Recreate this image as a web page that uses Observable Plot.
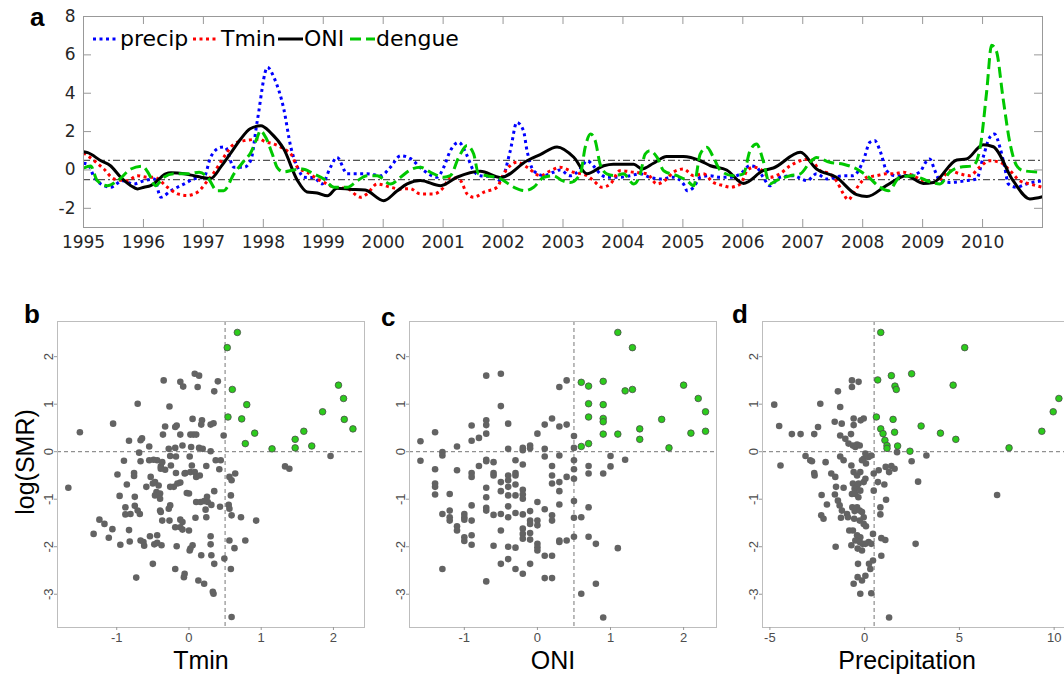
<!DOCTYPE html>
<html><head><meta charset="utf-8">
<script src="https://cdn.jsdelivr.net/npm/d3@7"></script>
<script src="https://cdn.jsdelivr.net/npm/@observablehq/plot@0.6"></script>
<style>
html,body{margin:0;padding:0;background:#fff;overflow:hidden;}
#wrap{position:relative;width:1064px;height:678px;overflow:hidden;background:#fff;}
#wrap svg{position:absolute;overflow:visible;background:transparent;max-width:none;}
.plab{position:absolute;font-family:"Liberation Sans",Arial,sans-serif;font-weight:bold;font-size:26px;line-height:1;color:#000;}
.atitle{position:absolute;font-family:"Liberation Sans",Arial,sans-serif;font-size:25px;line-height:1;color:#000;white-space:nowrap;transform:translate(-50%,-50%);}
.leg{position:absolute;font-family:"DejaVu Sans",sans-serif;font-size:22px;line-height:1;color:#000;white-space:nowrap;}
</style></head><body><div id="wrap"></div>
<script>
// ---------- Panel a: time series (decimal year, value) ----------
const precip = [[1995.0,0.35],[1995.07,0.3],[1995.18,-0.38],[1995.29,-0.73],[1995.45,-0.9],[1995.65,-0.56],[1995.84,-0.73],[1996.01,-0.56],[1996.18,-0.47],[1996.29,-1.42],[1996.46,-1.08],[1996.68,-0.73],[1996.84,-0.47],[1997.01,-0.38],[1997.12,0.66],[1997.29,1.18],[1997.36,1.2],[1997.51,0.14],[1997.68,0.14],[1997.79,0.5],[1997.9,2.57],[1998.07,5.35],[1998.18,4.8],[1998.34,3.2],[1998.46,1.18],[1998.57,0.14],[1998.68,-0.38],[1998.84,-0.4],[1998.98,-0.73],[1999.12,0.14],[1999.23,0.66],[1999.4,-0.2],[1999.57,-0.2],[1999.73,-0.2],[1999.96,-0.3],[2000.12,0.14],[2000.29,0.74],[2000.45,0.6],[2000.68,-0.04],[2000.9,-0.38],[2001.01,0.14],[2001.12,1.0],[2001.26,1.44],[2001.4,0.74],[2001.5,0.0],[2001.62,-0.3],[2001.85,-0.35],[2001.96,-0.56],[2002.12,1.0],[2002.23,2.48],[2002.34,2.05],[2002.4,1.0],[2002.51,-0.04],[2002.68,-0.3],[2002.84,-0.12],[2002.95,0.0],[2003.12,-0.3],[2003.29,0.05],[2003.4,0.48],[2003.51,0.2],[2003.62,-0.2],[2003.73,-0.38],[2003.95,-0.38],[2004.12,-0.3],[2004.29,-0.2],[2004.45,-0.38],[2004.62,-0.47],[2004.84,-0.38],[2005.01,-0.73],[2005.07,-1.08],[2005.18,-0.9],[2005.29,-0.38],[2005.45,-0.3],[2005.62,-0.38],[2005.79,-0.38],[2005.96,-0.2],[2006.12,0.22],[2006.23,0.14],[2006.34,-0.38],[2006.45,-0.82],[2006.62,-0.38],[2006.84,-0.3],[2007.07,-0.56],[2007.23,-0.2],[2007.4,-0.47],[2007.68,-0.3],[2007.84,-0.3],[2008.01,0.48],[2008.12,1.44],[2008.2,1.53],[2008.29,1.0],[2008.4,-0.04],[2008.55,-0.3],[2008.75,-0.3],[2008.95,-0.12],[2009.07,0.48],[2009.12,0.57],[2009.2,0.0],[2009.29,-0.56],[2009.45,-0.65],[2009.73,-0.56],[2009.9,-0.47],[2010.01,0.66],[2010.12,1.7],[2010.2,1.87],[2010.29,1.18],[2010.37,0.14],[2010.43,-0.73],[2010.57,-0.9],[2010.73,-0.73],[2011.0,-0.56]];
const tmin = [[1995.0,0.9],[1995.07,0.74],[1995.18,0.48],[1995.34,0.05],[1995.51,-0.47],[1995.73,-0.56],[1995.9,-0.3],[1996.07,-0.38],[1996.18,-0.38],[1996.4,-0.9],[1996.57,-1.25],[1996.73,-1.33],[1996.9,-1.16],[1997.07,-0.56],[1997.18,-0.12],[1997.34,0.66],[1997.51,1.35],[1997.68,1.53],[1997.95,1.6],[1998.01,1.5],[1998.18,1.35],[1998.34,1.1],[1998.48,0.74],[1998.57,0.14],[1998.73,-0.12],[1998.9,-0.47],[1999.01,-0.65],[1999.18,-0.9],[1999.4,-0.97],[1999.62,-1.42],[1999.73,-1.25],[1999.9,-0.73],[2000.12,-0.9],[2000.29,-1.0],[2000.45,-0.97],[2000.62,-1.25],[2000.84,-1.25],[2001.01,-0.9],[2001.12,-0.38],[2001.29,-0.56],[2001.4,-1.25],[2001.51,-1.42],[2001.68,-1.16],[2001.9,-0.9],[2002.01,-0.2],[2002.12,0.22],[2002.23,0.4],[2002.4,0.14],[2002.62,-0.3],[2002.79,-0.04],[2002.95,0.14],[2003.18,-0.12],[2003.4,-0.3],[2003.51,-0.56],[2003.65,-0.9],[2003.79,-0.73],[2003.95,-0.04],[2004.18,-0.12],[2004.4,-0.2],[2004.57,-0.73],[2004.73,-0.47],[2004.84,-0.12],[2005.01,0.05],[2005.18,-0.3],[2005.34,-0.2],[2005.51,-0.65],[2005.68,-0.82],[2005.79,-0.9],[2005.96,-0.73],[2006.07,-0.04],[2006.18,0.14],[2006.29,0.05],[2006.45,-0.38],[2006.62,-0.2],[2006.79,0.22],[2006.96,0.48],[2007.12,0.57],[2007.29,-0.04],[2007.45,-0.2],[2007.56,-0.56],[2007.68,-1.25],[2007.76,-1.56],[2007.84,-1.25],[2007.95,-0.73],[2008.07,-0.38],[2008.23,-0.3],[2008.4,-0.2],[2008.51,-0.2],[2008.68,-0.12],[2008.84,-0.3],[2009.01,-0.56],[2009.18,-0.65],[2009.34,-0.38],[2009.45,-0.04],[2009.62,-0.2],[2009.79,-0.3],[2009.95,0.14],[2010.12,0.48],[2010.29,0.4],[2010.46,-0.04],[2010.62,-0.56],[2010.79,-0.73],[2011.0,-0.9]];
const oni = [[1995.0,0.95],[1995.07,0.9],[1995.29,0.48],[1995.45,0.22],[1995.62,-0.38],[1995.79,-0.82],[1995.9,-0.99],[1996.01,-0.9],[1996.12,-0.82],[1996.23,-0.56],[1996.37,-0.2],[1996.46,-0.15],[1996.68,-0.2],[1996.84,-0.3],[1996.96,-0.38],[1997.12,-0.45],[1997.3,0.2],[1997.45,0.85],[1997.62,1.6],[1997.78,2.15],[1997.96,2.3],[1998.12,1.95],[1998.34,1.1],[1998.57,-0.55],[1998.73,-1.15],[1998.9,-1.2],[1999.07,-1.35],[1999.23,-0.95],[1999.45,-1.0],[1999.7,-1.05],[2000.01,-1.6],[2000.23,-1.1],[2000.4,-0.73],[2000.62,-0.55],[2000.96,-0.82],[2001.23,-0.38],[2001.62,-0.07],[2001.96,-0.4],[2002.4,0.48],[2002.62,0.8],[2002.9,1.2],[2003.18,0.66],[2003.4,-0.2],[2003.68,0.22],[2003.84,0.3],[2004.18,0.3],[2004.32,0.05],[2004.51,0.35],[2004.73,0.7],[2005.01,0.7],[2005.29,0.48],[2005.46,0.22],[2005.73,0.0],[2006.01,-0.7],[2006.34,-0.04],[2006.51,0.1],[2006.96,0.92],[2007.23,0.05],[2007.56,-0.38],[2007.9,-1.29],[2008.07,-1.39],[2008.4,-0.8],[2008.73,-0.3],[2009.01,-0.7],[2009.18,-0.65],[2009.57,0.52],[2009.73,0.57],[2010.01,1.32],[2010.18,1.21],[2010.51,-0.56],[2010.79,-1.51],[2011.0,-1.4]];
const dengue = [[1995.0,0.1],[1995.12,0.2],[1995.23,-0.56],[1995.4,-0.82],[1995.57,-0.56],[1995.79,0.05],[1995.98,0.2],[1996.09,-0.2],[1996.2,-0.82],[1996.34,-0.38],[1996.51,-0.2],[1996.73,-0.2],[1996.93,-0.12],[1997.07,-0.38],[1997.23,-1.08],[1997.34,-1.08],[1997.51,-0.2],[1997.68,0.48],[1997.79,0.9],[1997.9,1.7],[1997.95,2.05],[1998.04,1.7],[1998.15,0.83],[1998.23,0.14],[1998.34,-0.1],[1998.51,0.0],[1998.65,0.05],[1998.84,-0.2],[1999.01,-0.47],[1999.18,-0.9],[1999.4,-0.9],[1999.57,-0.56],[1999.73,-0.3],[1999.9,-0.3],[2000.12,-0.73],[2000.29,-0.38],[2000.45,0.0],[2000.62,0.14],[2000.79,-0.12],[2001.01,-0.38],[2001.12,-0.3],[2001.26,0.66],[2001.4,1.27],[2001.51,0.83],[2001.59,-0.2],[2001.73,-0.3],[2001.96,-0.47],[2002.18,-0.9],[2002.37,-1.08],[2002.51,-0.9],[2002.68,-0.38],[2002.84,-0.3],[2002.99,-0.56],[2003.12,-0.65],[2003.29,-0.2],[2003.37,1.18],[2003.46,1.87],[2003.54,1.5],[2003.62,0.3],[2003.73,-0.2],[2003.87,-0.3],[2004.01,-0.2],[2004.18,-0.73],[2004.29,-0.2],[2004.37,0.83],[2004.45,1.0],[2004.57,0.66],[2004.68,-0.04],[2004.9,-0.3],[2005.07,-0.56],[2005.18,-0.82],[2005.29,0.83],[2005.4,1.18],[2005.51,0.66],[2005.62,0.0],[2005.84,-0.3],[2006.01,-0.2],[2006.12,1.0],[2006.23,1.35],[2006.34,0.48],[2006.45,-0.73],[2006.56,-0.56],[2006.79,-0.3],[2006.96,-0.2],[2007.12,0.4],[2007.23,0.65],[2007.45,0.4],[2007.68,0.3],[2007.9,0.05],[2008.07,-0.3],[2008.29,-0.9],[2008.43,-1.08],[2008.62,-0.38],[2008.84,-0.3],[2009.07,-0.56],[2009.29,-0.73],[2009.45,-0.12],[2009.62,0.14],[2009.84,0.22],[2009.95,1.0],[2010.07,4.13],[2010.15,6.5],[2010.23,6.2],[2010.34,3.78],[2010.46,1.35],[2010.57,0.22],[2010.68,-0.04],[2011.0,-0.12]];
const yearTicks = [1995,1996,1997,1998,1999,2000,2001,2002,2003,2004,2005,2006,2007,2008,2009,2010];
const valueTicks = [-2,0,2,4,6,8];
const thresholds = [0.5,-0.5];

// ---------- Panels b, c, d: log(SMR) vs covariate ----------
const tminGray = [[-1.67,-0.76],[-1.51,0.41],[-1.05,0.59],[-0.71,1.01],[-0.83,0.23],[-0.69,-0.02],[-0.67,0.24],[-0.65,0.28],[-0.55,0.11],[-0.90,-0.19],[-0.67,-0.20],[-0.99,-0.48],[-0.76,-0.45],[-0.76,-0.51],[-0.86,-0.69],[-0.96,-0.93],[-0.75,-0.95],[-0.88,-1.17],[-0.88,-1.32],[-0.81,-1.31],[-0.75,-1.14],[-0.71,-1.24],[-0.68,-1.31],[-1.24,-1.43],[-1.17,-1.52],[-1.32,-1.73],[-1.06,-1.63],[-1.11,-1.81],[-0.83,-1.65],[-0.82,-1.89],[-0.95,-1.96],[-0.67,-1.87],[-0.63,-1.90],[-0.62,-1.98],[-0.73,-2.65],[-0.50,-2.36],[-0.48,-1.95],[-0.44,-1.76],[-0.38,-1.97],[-0.44,-1.92],[-0.54,-1.78],[-0.53,-0.53],[-0.50,-0.67],[-0.47,-0.64],[-0.59,-0.74],[-0.42,-0.71],[-0.45,-0.85],[-0.47,-0.92],[-0.40,-0.88],[-0.40,-0.99],[-0.40,-1.24],[-0.39,-1.27],[-0.37,-1.45],[-0.27,-1.45],[-0.26,-1.13],[-0.33,0.53],[-0.36,0.36],[-0.27,0.95],[-0.35,1.50],[-0.28,0.06],[-0.19,0.08],[-0.26,-0.09],[-0.18,-0.10],[-0.25,-0.29],[-0.33,-0.38],[-0.39,-0.31],[-0.44,-0.18],[-0.49,-0.17],[-0.55,-0.18],[-0.37,-0.22],[-0.39,-0.36],[-0.19,0.52],[-0.17,0.55],[-0.12,0.36],[-0.09,0.13],[-0.12,1.47],[-0.08,1.37],[-0.18,-0.45],[-0.16,-0.67],[-0.12,-0.65],[-0.21,-0.74],[-0.26,-0.74],[-0.19,-1.59],[-0.12,-1.43],[-0.09,-1.48],[-0.12,-1.59],[-0.17,-1.99],[-0.19,-2.47],[-0.06,-2.57],[-0.07,-2.64],[-0.28,-1.20],[-0.09,-1.64],[-0.06,-0.46],[-0.03,-0.87],[0.00,-1.66],[0.02,-2.04],[0.05,-1.97],[0.01,-2.08],[0.02,0.36],[0.06,0.36],[0.10,0.36],[0.05,0.69],[0.18,0.66],[0.17,0.57],[0.03,0.10],[0.14,0.08],[0.19,0.06],[0.01,-0.10],[0.04,-0.29],[-0.05,-0.45],[0.02,-0.43],[0.08,-0.43],[0.10,-0.53],[0.15,-0.50],[0.00,-0.88],[0.08,1.64],[0.14,1.60],[0.12,1.36],[0.10,-1.06],[0.09,-1.39],[0.16,-1.06],[0.21,-1.04],[0.23,-1.22],[0.24,-1.38],[0.26,-1.06],[0.25,-0.95],[0.13,-2.71],[0.21,-2.78],[0.17,-2.18],[0.30,0.57],[0.34,0.60],[0.35,1.27],[0.40,1.48],[0.30,0.01],[0.24,-0.30],[0.37,-0.18],[0.44,-0.18],[0.42,-0.37],[0.48,0.34],[0.35,-0.83],[0.31,-1.12],[0.43,-1.16],[0.30,-1.78],[0.30,-1.95],[0.31,-2.18],[0.35,-2.36],[0.34,-2.99],[0.33,-2.95],[0.49,-2.25],[0.55,-1.12],[0.56,-1.20],[0.56,-0.53],[0.59,-0.60],[0.64,-0.46],[0.58,-0.92],[0.59,-1.34],[0.72,-1.38],[0.56,-1.87],[0.58,-2.47],[0.63,-2.03],[0.78,-1.87],[0.93,-1.45],[0.59,-3.48],[1.33,-0.31],[1.39,-0.36],[1.96,-0.09]];
const tminGreen = [[0.67,2.51],[0.53,2.19],[0.60,1.31],[0.80,0.99],[0.54,0.73],[0.73,0.69],[0.91,0.39],[0.78,0.17],[1.15,0.06],[1.47,0.26],[1.47,0.08],[1.59,0.43],[1.70,0.12],[1.85,0.84],[2.07,1.40],[2.14,1.12],[2.15,0.68],[2.27,0.48]];

const oniGray = [[-1.6,0.22],[-1.6,-0.19],[-1.4,0.41],[-1.4,-0.37],[-1.4,-0.67],[-1.4,-0.74],[-1.4,-0.90],[-1.3,-0.01],[-1.3,-0.08],[-1.3,-1.31],[-1.3,-2.47],[-1.2,-0.89],[-1.2,-1.24],[-1.2,-1.38],[-1.2,-1.45],[-1.1,0.11],[-1.1,-0.39],[-1.1,-1.57],[-1.1,-1.66],[-1.0,-1.31],[-1.0,-1.38],[-1.0,-1.43],[-1.0,-1.80],[-1.0,-1.88],[-0.9,0.55],[-0.9,0.23],[-0.9,-0.45],[-0.9,-0.53],[-0.9,-1.13],[-0.9,-1.45],[-0.9,-1.76],[-0.9,-1.96],[-0.8,0.29],[-0.8,-0.30],[-0.7,1.60],[-0.7,0.66],[-0.7,0.56],[-0.7,0.38],[-0.7,-0.17],[-0.7,-0.20],[-0.7,-0.76],[-0.7,-0.96],[-0.7,-1.18],[-0.7,-1.24],[-0.7,-2.73],[-0.6,-0.22],[-0.6,-0.45],[-0.6,-0.50],[-0.6,-1.33],[-0.6,-1.98],[-0.5,1.64],[-0.5,0.96],[-0.5,-0.64],[-0.5,-0.83],[-0.5,-1.31],[-0.5,-1.66],[-0.5,-2.36],[-0.4,0.59],[-0.4,0.06],[-0.4,-0.50],[-0.4,-0.60],[-0.4,-0.74],[-0.4,-0.92],[-0.4,-1.15],[-0.4,-1.38],[-0.4,-2.00],[-0.4,-2.26],[-0.3,-0.18],[-0.3,-0.45],[-0.3,-0.50],[-0.3,-0.69],[-0.3,-0.92],[-0.3,-1.29],[-0.3,-2.02],[-0.3,-2.47],[-0.2,0.08],[-0.2,0.03],[-0.2,-0.27],[-0.2,-0.80],[-0.2,-0.90],[-0.2,-0.99],[-0.2,-1.32],[-0.2,-1.62],[-0.2,-1.73],[-0.2,-1.83],[-0.2,-2.57],[-0.1,0.13],[-0.1,0.07],[-0.1,-1.25],[-0.1,-1.45],[-0.1,-1.52],[-0.1,-1.71],[-0.1,-1.85],[-0.1,-2.36],[0.0,0.38],[0.0,-1.06],[0.0,-1.45],[0.0,-1.55],[0.0,-1.94],[0.0,-2.01],[0.0,-2.08],[0.1,0.57],[0.1,0.06],[0.1,-0.10],[0.1,-1.21],[0.1,-2.19],[0.1,-2.66],[0.2,0.70],[0.2,-0.30],[0.2,-0.50],[0.2,-0.67],[0.2,-1.34],[0.2,-1.45],[0.2,-2.19],[0.2,-2.66],[0.3,1.36],[0.3,0.53],[0.3,-0.08],[0.3,-0.64],[0.3,-0.83],[0.3,-1.11],[0.3,-1.87],[0.3,-1.90],[0.4,1.50],[0.4,0.57],[0.4,-0.53],[0.4,-1.87],[0.5,0.33],[0.5,0.08],[0.5,-0.18],[0.5,-0.37],[0.5,-0.57],[0.5,-1.04],[0.5,-1.39],[0.5,-1.79],[0.6,-1.38],[0.6,-2.99],[0.7,-0.30],[0.7,-0.46],[0.7,-1.17],[0.7,-1.79],[0.8,-1.94],[0.8,-2.78],[0.9,-0.46],[0.9,-3.49],[1.0,-0.09],[1.0,-0.31],[1.1,-2.03],[1.2,-0.17]];
const oniGreen = [[1.1,2.51],[1.3,2.19],[0.6,1.46],[0.7,1.38],[0.9,1.48],[1.2,1.28],[1.3,1.31],[2.0,1.40],[2.2,1.12],[2.3,0.84],[0.7,1.01],[0.9,0.99],[0.7,0.73],[0.9,0.70],[0.9,0.63],[1.7,0.68],[1.4,0.48],[1.4,0.26],[1.1,0.37],[0.9,0.37],[2.1,0.39],[2.3,0.43],[0.7,0.17],[0.6,0.11],[1.8,0.08]];

const precipGray = [[-4.77,0.99],[-4.51,0.54],[-4.44,-0.29],[-3.84,0.37],[-3.38,0.37],[-3.12,-0.09],[-2.87,-0.18],[-2.78,-0.20],[-2.66,0.37],[-2.46,0.52],[-2.34,1.01],[-2.66,-0.45],[-2.64,-0.50],[-2.06,-0.22],[-2.27,-0.91],[-1.99,-1.11],[-2.29,-1.34],[-2.17,-1.41],[-1.76,-0.46],[-1.58,0.63],[-1.55,-0.53],[-1.51,-0.74],[-1.57,-0.90],[-1.41,1.27],[-1.29,0.94],[-1.21,0.59],[-1.29,0.34],[-1.29,-0.10],[-1.41,-1.03],[-1.32,-1.13],[-1.20,-1.24],[-1.25,-1.39],[-1.53,-2.00],[-1.11,-0.18],[-1.11,-0.76],[-1.02,0.27],[-0.81,-1.66],[-0.93,-1.31],[-0.88,-1.38],[-0.85,0.17],[-0.72,0.37],[-0.67,1.50],[-0.67,1.36],[-0.58,0.70],[-0.58,0.56],[-0.32,1.47],[-0.21,0.66],[-0.05,0.70],[-0.62,0.13],[-0.49,0.10],[-0.40,0.15],[-0.26,0.13],[-0.70,-0.29],[-0.58,-0.43],[-0.40,-0.50],[-0.23,-0.43],[-0.62,-0.67],[-0.53,-0.78],[-0.40,-0.74],[-0.32,-0.67],[-0.67,-0.89],[-0.49,-0.89],[-0.33,-0.96],[-0.23,-0.82],[-0.05,-0.64],[0.04,-0.57],[-0.65,-1.17],[-0.53,-1.25],[-0.40,-1.17],[-0.26,-1.24],[-0.14,-1.27],[-0.05,-1.38],[-0.55,-1.41],[-0.26,-1.45],[-0.05,-1.52],[0.07,-1.57],[-0.62,-1.66],[-0.40,-1.76],[-0.23,-1.80],[-0.49,-1.87],[-0.26,-1.90],[-0.11,-1.94],[-0.70,-1.97],[-0.37,-2.04],[-0.14,-2.08],[0.04,-1.94],[0.21,-1.90],[0.44,-1.73],[0.35,-1.94],[-0.35,-2.36],[-0.58,-2.78],[-0.37,-2.64],[-0.14,-2.71],[0.04,-2.61],[-0.23,-2.99],[0.35,-2.98],[0.30,-2.47],[0.44,-2.29],[0.23,-2.36],[-0.05,-0.15],[0.07,-0.25],[0.21,-0.11],[-0.14,-0.18],[0.04,-0.04],[0.35,-0.08],[0.48,-0.46],[0.70,-0.64],[0.48,-0.82],[0.74,-0.39],[1.04,-0.69],[1.11,-0.32],[1.29,-0.43],[1.41,-0.30],[1.58,-0.36],[1.71,-0.01],[1.13,-1.01],[0.83,-1.17],[0.83,-1.32],[0.88,-1.82],[1.09,-1.86],[0.88,-2.19],[1.29,-3.49],[2.48,-0.20],[3.26,-0.08],[2.82,-0.63],[2.69,-1.94],[6.99,-0.91]];
const precipGreen = [[0.85,2.51],[5.28,2.19],[2.48,1.64],[1.41,1.60],[0.69,1.51],[1.60,1.38],[1.67,1.31],[4.67,1.40],[10.25,1.12],[9.95,0.84],[9.35,0.43],[0.62,0.73],[1.50,0.68],[2.98,0.54],[0.85,0.48],[0.97,0.38],[1.58,0.41],[4.00,0.39],[4.81,0.26],[1.07,0.24],[1.18,0.13],[1.18,0.07],[1.74,0.12],[2.39,0.01],[7.62,0.08]];

const smrTicks = [-3,-2,-1,0,1,2];

// ---------- build ----------
const wrap = document.getElementById("wrap");
function place(el, left, top) { el.style.left = left + "px"; el.style.top = top + "px"; wrap.appendChild(el); return el; }

// Panel a
const seriesDefs = [
  {name:"precip", data:precip, color:"#0000ff", dash:"3,3.5"},
  {name:"Tmin",   data:tmin,   color:"#ff0000", dash:"3,3.5"},
  {name:"ONI",    data:oni,    color:"#000000", dash:null},
  {name:"dengue", data:dengue, color:"#00c800", dash:"11,5"}
];
const aW = 1064, aH = 260, aML = 83, aMR = 22, aMT = 16, aMB = 33;
const fw = aW - aML - aMR, fh = aH - aMT - aMB, tk = 8;
const plotA = Plot.plot({
  width:aW, height:aH, marginLeft:aML, marginRight:aMR, marginTop:aMT, marginBottom:aMB,
  x:{domain:[1995,2011]}, y:{domain:[-3,8]},
  style:{fontFamily:"DejaVu Sans", fontSize:"17px", color:"#262626", background:"transparent"},
  marks:[
    Plot.ruleY(thresholds, {y:d=>d, stroke:"#555", strokeWidth:1.2, strokeDasharray:"7,3,2,3"}),
    ...seriesDefs.map(s => Plot.line(s.data, {x:d=>d[0], y:d=>d[1], stroke:s.color, strokeWidth:3, strokeDasharray:s.dash, strokeLinecap:"butt", curve:"monotone-x"})),
    Plot.frame({stroke:"#999"}),
    Plot.ruleX(yearTicks, {x:d=>d, insetTop:fh-tk, stroke:"#999"}),
    Plot.ruleX(yearTicks, {x:d=>d, insetBottom:fh-tk, stroke:"#999"}),
    Plot.ruleY(valueTicks, {y:d=>d, insetRight:fw-tk, stroke:"#999"}),
    Plot.ruleY(valueTicks, {y:d=>d, insetLeft:fw-tk, stroke:"#999"}),
    Plot.axisX({ticks:yearTicks, tickSize:0, tickPadding:8, tickFormat:d=>String(d), label:null}),
    Plot.axisY({ticks:valueTicks, tickSize:0, tickPadding:8, tickFormat:d=>String(d), label:null})
  ]
});
place(plotA, 0, 0);

// legend for panel a
const legendItems = [
  {label:"precip", color:"#0000ff", dash:"3,3.5", sx:93, tx:120},
  {label:"Tmin",   color:"#ff0000", dash:"3,3.5", sx:193, tx:221},
  {label:"ONI",    color:"#000000", dash:null,  sx:278, tx:304},
  {label:"dengue", color:"#00c800", dash:"11,5", sx:350, tx:376}
];
for (const it of legendItems) {
  const ns = "http://www.w3.org/2000/svg";
  const s = document.createElementNS(ns, "svg");
  s.setAttribute("width", 26); s.setAttribute("height", 8);
  const l = document.createElementNS(ns, "line");
  l.setAttribute("x1", 0); l.setAttribute("x2", 25); l.setAttribute("y1", 4); l.setAttribute("y2", 4);
  l.setAttribute("stroke", it.color); l.setAttribute("stroke-width", 3);
  if (it.dash) l.setAttribute("stroke-dasharray", it.dash);
  s.appendChild(l);
  place(s, it.sx, 35);
  const t = document.createElement("div"); t.className = "leg"; t.textContent = it.label;
  place(t, it.tx, 28);
}

// Scatter panels
function scatter(gray, green, xDomain, xTicks, left) {
  const W = 372, H = 388, ML = 57, MR = 8, MT = 31, MB = 51;
  const p = Plot.plot({
    width:W, height:H, marginLeft:ML, marginRight:MR, marginTop:MT, marginBottom:MB,
    x:{domain:xDomain}, y:{domain:[-3.7,2.74]},
    style:{fontFamily:"Liberation Sans, Arial, sans-serif", fontSize:"13px", color:"#4d4d4d", background:"transparent"},
    marks:[
      Plot.ruleX([0.5], {x:d=>d, stroke:"#777", strokeWidth:1, strokeDasharray:"4,3"}),
      Plot.ruleY([0], {y:d=>d, stroke:"#777", strokeWidth:1, strokeDasharray:"4,3"}),
      Plot.dot(gray, {x:d=>d[0], y:d=>d[1], r:3.3, fill:"#636363", stroke:"none"}),
      Plot.dot(green, {x:d=>d[0], y:d=>d[1], r:3.3, fill:"#2ccb1c", stroke:"#4a4a4a", strokeWidth:0.8}),
      Plot.frame({stroke:"#bdbdbd"}),
      Plot.axisX({ticks:xTicks, tickSize:3, tickPadding:2, tickFormat:d=>String(d), label:null, stroke:"#999"}),
      Plot.axisY({ticks:smrTicks, tickSize:3, tickFormat:()=>"", label:null, stroke:"#999"}),
      Plot.text(smrTicks, {y:d=>d, text:d=>String(d), frameAnchor:"left", dx:-9, rotate:-90, textAnchor:"middle", lineAnchor:"middle", fill:"#4d4d4d"})
    ]
  });
  place(p, left, 290);
  return p;
}
scatter(tminGray, tminGreen, [-1.82,2.43], [-1,0,1,2], 0);
scatter(oniGray, oniGreen, [-1.75,2.45], [-1,0,1,2], 352);
scatter(precipGray, precipGreen, [-5.39,10.81], [-5,0,5,10], 705);

// Panel letters
const panelLabels = [["a",30,4],["b",24,301],["c",381,304],["d",732,301]];
for (const [t,x,y] of panelLabels) { const d = document.createElement("div"); d.className="plab"; d.textContent=t; place(d,x,y); }

// Axis titles
const axisTitles = [["Tmin",201,660,false],["ONI",553,660,false],["Precipitation",907,660,false],["log(SMR)",25,462,true]];
for (const [t,x,y,rot] of axisTitles) {
  const d = document.createElement("div"); d.className="atitle"; d.textContent=t;
  if (rot) d.style.transform = "translate(-50%,-50%) rotate(-90deg)";
  place(d,x,y);
}
</script></body></html>
